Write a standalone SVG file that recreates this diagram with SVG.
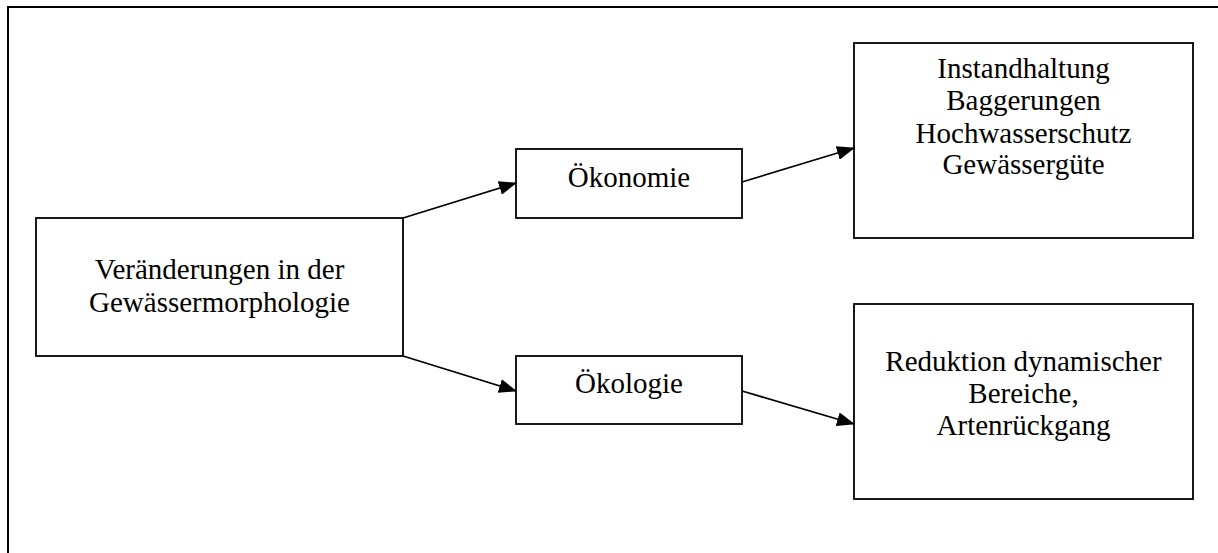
<svg xmlns="http://www.w3.org/2000/svg" width="1218" height="553" viewBox="0 0 1218 553">
<style>
.box{fill:#fff;stroke:#000;stroke-width:1.8}
.t{font-family:"Liberation Serif","Times New Roman",serif;font-size:29px;fill:#000;text-anchor:middle}
.c{stroke:#000;stroke-width:1.8;fill:none}
</style>
<defs>
<marker id="ah" markerWidth="18" markerHeight="14" refX="17" refY="7" orient="auto" markerUnits="userSpaceOnUse">
<path d="M0,0 L18,7 L0,14 Z" fill="#000"/>
</marker>
</defs>
<rect width="1218" height="553" fill="#fff"/>
<path d="M8,553 L8,7 L1218,7" fill="none" stroke="#000" stroke-width="2"/>
<g id="n-main">
<rect class="box" x="36" y="218" width="367" height="138"/>
<text class="t" x="219.5" y="279">Veränderungen in der</text>
<text class="t" x="219.5" y="312">Gewässermorphologie</text>
</g>
<g id="n-oekonomie">
<rect class="box" x="516" y="149" width="226" height="69"/>
<text class="t" x="629" y="187">Ökonomie</text>
</g>
<g id="n-oekologie">
<rect class="box" x="516" y="356" width="226" height="68"/>
<text class="t" x="629" y="393">Ökologie</text>
</g>
<g id="n-econ-effects">
<rect class="box" x="854" y="43" width="339" height="195"/>
<text class="t" x="1023.5" y="78">Instandhaltung</text>
<text class="t" x="1023.5" y="110">Baggerungen</text>
<text class="t" x="1023.5" y="143">Hochwasserschutz</text>
<text class="t" x="1023.5" y="174">Gewässergüte</text>
</g>
<g id="n-eco-effects">
<rect class="box" x="854" y="304" width="339" height="195"/>
<text class="t" x="1023.5" y="371">Reduktion dynamischer</text>
<text class="t" x="1023.5" y="403">Bereiche,</text>
<text class="t" x="1023.5" y="435">Artenrückgang</text>
</g>
<g id="connectors">
<line class="c" x1="403" y1="218" x2="516" y2="183" marker-end="url(#ah)"/>
<line class="c" x1="742" y1="182" x2="854" y2="148" marker-end="url(#ah)"/>
<line class="c" x1="403" y1="356" x2="516" y2="391" marker-end="url(#ah)"/>
<line class="c" x1="742" y1="391" x2="854" y2="424" marker-end="url(#ah)"/>
</g>
</svg>
